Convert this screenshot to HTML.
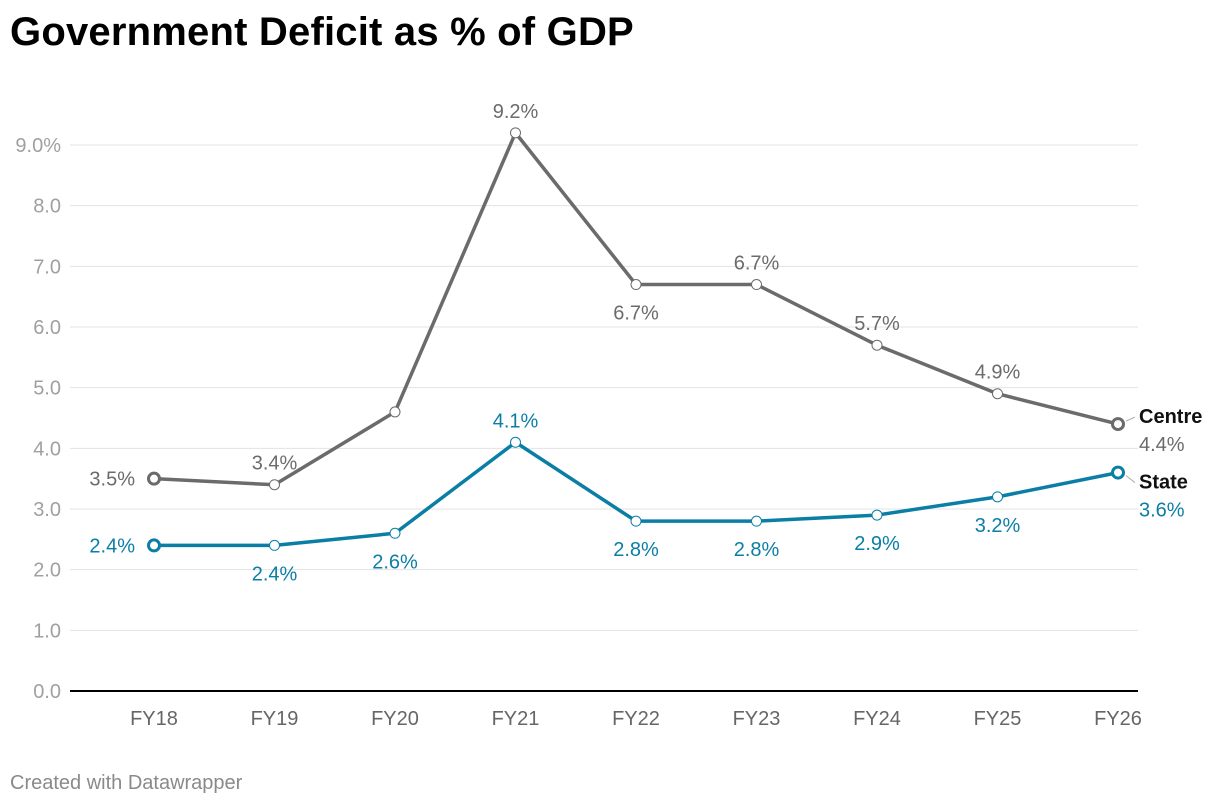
<!DOCTYPE html>
<html><head><meta charset="utf-8">
<style>
body{margin:0;background:#fff;width:1220px;height:808px;overflow:hidden;font-family:"Liberation Sans",Roboto,sans-serif}
h1{position:absolute;left:10px;top:10px;margin:0;font-size:40px;font-weight:bold;color:#000;letter-spacing:0.2px}
.foot{position:absolute;left:10px;top:772px;font-size:20px;color:#8a8a8a}
svg{position:absolute;left:0;top:0}
</style></head><body>
<h1>Government Deficit as % of GDP</h1>
<svg id="chart" width="1220" height="808"></svg>
<div class="foot">Created with Datawrapper</div>
<script>
const categories=["FY18","FY19","FY20","FY21","FY22","FY23","FY24","FY25","FY26"];
const centre=[3.5,3.4,4.6,9.2,6.7,6.7,5.7,4.9,4.4];
const state=[2.4,2.4,2.6,4.1,2.8,2.8,2.9,3.2,3.6];
const yTicks=[0,1,2,3,4,5,6,7,8,9];
const centreLabelPos=["left","above","none","above","below","above","above","above","end"];
const stateLabelPos=["left","below","below","above","below","below","below","below","end"];
const NS="http://www.w3.org/2000/svg";
const svg=document.getElementById('chart');
const X=i=>154+i*(1118-154)/(categories.length-1);
const Y=v=>691-v*(691-145)/9;
function el(t,a,p){const e=document.createElementNS(NS,t);for(const k in a)e.setAttribute(k,a[k]);(p||svg).appendChild(e);return e;}
yTicks.forEach(t=>{
  const g=el('line',{x1:70,x2:1138,y1:Y(t),y2:Y(t),stroke:t===0?'#000':'#e3e3e3','stroke-width':t===0?2:1});
  
  
  const tx=el('text',{x:61,y:Y(t)+7,'text-anchor':'end','font-size':20,fill:'#a0a0a0'});
  tx.textContent=t===9?'9.0%':t.toFixed(1);
  
  
});
categories.forEach((c,i)=>{
  const tx=el('text',{x:X(i),y:725,'text-anchor':'middle','font-size':20,fill:'#666'});
  tx.textContent=c;
  
  
});
function series(vals,pos,color,name,endOff){
  const p=el('polyline',{points:vals.map((v,i)=>X(i)+','+Y(v)).join(' '),fill:'none',stroke:color,'stroke-width':3.5,'stroke-linejoin':'round'});
  
  
  vals.forEach((v,i)=>{
    const end=i===0||i===vals.length-1;
    const c=el('circle',{cx:X(i),cy:Y(v),r:end?5.5:5,fill:'#fff',stroke:color,'stroke-width':end?3:1});
    
    
    const ps=pos[i];if(ps==='none')return;
    const lbl=v.toFixed(1)+'%';
    if(ps==='end'){
      const ly=Y(v)+endOff;
      const ln=el('line',{x1:X(i)+8,y1:Y(v)+(endOff>0?3:-3),x2:1135,y2:ly-6,stroke:'#aaa','stroke-width':1});
      
      
      const n=el('text',{x:1139,y:ly,'font-size':20,'font-weight':'bold',fill:'#111'});
      n.textContent=name==='centre'?'Centre':'State';
      
      
      const t=el('text',{x:1139,y:ly+28,'font-size':20,fill:color});t.textContent=lbl;
      
      
      return;
    }
    let x=X(i),y=Y(v),a='middle';
    if(ps==='left'){x=X(i)-19;y+=7;a='end';}
    else if(ps==='above'){y-=15;}
    else {y+=35;}
    const t=el('text',{x:x,y:y,'text-anchor':a,'font-size':20,fill:color});t.textContent=lbl;
    
    
  });
}
series(centre,centreLabelPos,'#6b6b6b','centre',-1);
series(state,stateLabelPos,'#0b7ea5','state',16);
</script>
</body></html>
